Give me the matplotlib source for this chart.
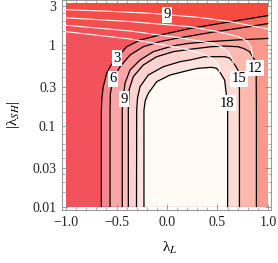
import matplotlib
matplotlib.use("Agg")
import matplotlib.pyplot as plt

plt.rcParams["font.family"] = ["Liberation Serif", "DejaVu Serif"]
plt.rcParams["mathtext.fontset"] = "stix"

# ── Rango de los datos ───────────────────────────────────────────────────────
LAM_L_MIN, LAM_L_MAX = -1.0, 1.0
LAM_SH_MIN, LAM_SH_MAX = 0.01, 3.3

# ── Contornos negros ─────────────────────────────────────────────────────────
c3_lamL = [-0.650, -0.650, -0.645, -0.631, -0.597, -0.554, -0.498, -0.399, -0.267,
           -0.102, 0.062, 0.228, 0.436, 0.723, 1.0]
c3_lamSH = [0.01, 0.157, 0.22, 0.305, 0.446, 0.565, 0.684, 0.952, 1.15,
            1.30, 1.44, 1.60, 1.77, 2.03, 2.31]

c6_lamL = [-0.564, -0.564, -0.561, -0.532, -0.465, -0.366, -0.234, -0.069, 0.096,
           0.228, 0.436, 0.723, 1.0]
c6_lamSH = [0.01, 0.157, 0.25, 0.387, 0.538, 0.752, 0.952, 1.10, 1.21,
            1.29, 1.43, 1.62, 1.84]

c9_lamL = [-0.443, -0.443, -0.433, -0.416, -0.366, -0.267, -0.136, 0.030, 0.109,
           0.228, 0.436, 0.723, 1.0]
c9_lamSH = [0.01, 0.157, 0.219, 0.336, 0.490, 0.652, 0.826, 0.952, 1.0,
            1.05, 1.104, 1.16, 1.204]

c12_lamL = [-0.383, -0.383, -0.376, -0.334, -0.235, -0.102, 0.062, 0.228, 0.439,
            0.574, 0.703, 0.760, 0.819, 0.868, 0.884, 0.886, 0.886]
c12_lamSH = [0.01, 0.157, 0.277, 0.405, 0.565, 0.716, 0.826, 0.885, 0.952,
             0.97, 0.952, 0.905, 0.826, 0.652, 0.405, 0.157, 0.01]

c15_lamL = [-0.302, -0.300, -0.292, -0.267, -0.185, -0.037, 0.129, 0.228, 0.373,
            0.571, 0.620, 0.653, 0.703, 0.718, 0.718, 0.718]
c15_lamSH = [0.01, 0.157, 0.22, 0.305, 0.425, 0.538, 0.621, 0.652, 0.716,
             0.716, 0.69, 0.621, 0.490, 0.277, 0.157, 0.01]

c18_lamL = [-0.228, -0.228, -0.215, -0.185, -0.102, 0.030, 0.228, 0.307, 0.439,
            0.490, 0.522, 0.571, 0.587, 0.601, 0.601]
c18_lamSH = [0.01, 0.157, 0.205, 0.252, 0.351, 0.425, 0.490, 0.514, 0.529,
             0.515, 0.467, 0.369, 0.252, 0.157, 0.01]

# ── Contornos blancos (segunda magnitud, arriba) ─────────────────────────────
w9_lamL = [-1.0, -0.564, -0.168, 0.010, 0.327, 0.624, 1.0]
w9_lamSH = [2.74, 2.61, 2.47, 2.37, 2.19, 1.95, 1.58]

w12_lamL = [-1.0, -0.366, 0.228, 0.505, 0.703, 0.792, 0.832, 0.850]
w12_lamSH = [2.17, 1.95, 1.686, 1.461, 1.274, 1.121, 0.944, 0.711]

w15_lamL = [-1.0, -0.366, 0.109, 0.436, 0.545, 0.604, 0.639, 0.661]
w15_lamSH = [1.754, 1.491, 1.238, 1.059, 0.944, 0.819, 0.700, 0.598]

w18_lamL = [-1.0, -0.366, 0.109, 0.307, 0.426, 0.485, 0.515, 0.522]
w18_lamSH = [1.461, 1.187, 0.931, 0.819, 0.710, 0.616, 0.534, 0.467]

# Etiquetas de los contornos
black_labels = ["3", "6", "9", "12", "15", "18"]
black_label_lamL = [-0.498, -0.532, -0.428, 0.874, 0.714, 0.598]
black_label_lamSH = [0.684, 0.383, 0.212, 0.514, 0.383, 0.19]
white_label = "9"
white_label_lamL, white_label_lamSH = 0.0, 2.36

x_ticks = [-1.0, -0.5, 0.0, 0.5, 1.0]
x_tick_labels = ["\u22121.0", "\u22120.5", "0.0", "0.5", "1.0"]
y_ticks = [0.01, 0.03, 0.1, 0.3, 1, 3]
y_tick_labels = ["0.01", "0.03", "0.1", "0.3", "1", "3"]
y_minor = [0.015, 0.02, 0.025, 0.04, 0.05, 0.06, 0.08, 0.15, 0.2, 0.25,
           0.4, 0.5, 0.6, 0.7, 0.8, 0.9, 1.5, 2, 2.5]
x_minor = [-0.9, -0.8, -0.7, -0.6, -0.4, -0.3, -0.2, -0.1,
           0.1, 0.2, 0.3, 0.4, 0.6, 0.7, 0.8, 0.9]

# ── Estilos ──────────────────────────────────────────────────────────────────
band_colors = ["#f2525a", "#f8868a", "#faa6a7", "#fcc0bf", "#fdd2cf", "#fee2dd", "#fffaf3"]
tint = "#ff4623"
tint_alpha = {"w9": 0.22, "w12": 0.17, "w15": 0.13, "w18": 0.05}

fig = plt.figure(figsize=(2.78, 2.63), dpi=100)
ax = fig.add_axes([0.222, 0.2015, 0.7518, 0.7985])
ax.set_yscale("log")

# fondo (<3)
ax.fill([LAM_L_MIN, LAM_L_MAX, LAM_L_MAX, LAM_L_MIN],
        [LAM_SH_MIN, LAM_SH_MIN, LAM_SH_MAX, LAM_SH_MAX],
        color=band_colors[0], lw=0, zorder=1)

contours = [(c3_lamL, c3_lamSH), (c6_lamL, c6_lamSH), (c9_lamL, c9_lamSH),
            (c12_lamL, c12_lamSH), (c15_lamL, c15_lamSH), (c18_lamL, c18_lamSH)]

# regiones f > nivel, de fuera hacia dentro
for i, (cx, cy) in enumerate(contours):
    px, py = list(cx), list(cy)
    if cx[-1] == LAM_L_MAX:  # sale por el borde derecho
        px.append(LAM_L_MAX)
        py.append(LAM_SH_MIN)
    ax.fill(px, py, color=band_colors[i + 1], lw=0, zorder=1)


def tail(cx, cy, x_end, y_end):
    """Tramo del contorno negro por debajo del final de la línea blanca."""
    return [(x, y) for x, y in zip(cx, cy) if x > x_end and y < y_end]


whites = [("w18", w18_lamL, w18_lamSH, c18_lamL, c18_lamSH),
          ("w15", w15_lamL, w15_lamSH, c15_lamL, c15_lamSH),
          ("w12", w12_lamL, w12_lamSH, c12_lamL, c12_lamSH),
          ("w9", w9_lamL, w9_lamSH, None, None)]

# tinte anaranjado por encima de cada línea blanca
for name, wx, wy, cx, cy in whites:
    px, py = list(wx), list(wy)
    if cx is not None:
        for x, y in tail(cx, cy, wx[-1], wy[-1]):
            px.append(x)
            py.append(y)
        px.append(LAM_L_MAX)
        py.append(LAM_SH_MIN)
    px += [LAM_L_MAX, LAM_L_MIN]
    py += [LAM_SH_MAX, LAM_SH_MAX]
    ax.fill(px, py, color=tint, alpha=tint_alpha[name], lw=0, zorder=2)

for cx, cy in contours:
    ax.plot(cx, cy, color="black", lw=0.9, zorder=3)
for name, wx, wy, cx, cy in whites:
    ax.plot(wx, wy, color="white", lw=0.8, zorder=3)

box = dict(facecolor="white", edgecolor="none", pad=1.0)
for lab, lx, ly in zip(black_labels, black_label_lamL, black_label_lamSH):
    ax.text(lx, ly, lab, fontsize=10.5, ha="center", va="center", bbox=box, zorder=4)
ax.text(white_label_lamL, white_label_lamSH, white_label, fontsize=10.5,
        ha="center", va="center", bbox=box, zorder=4)

ax.set_xlim(-1.043, 1.028)
ax.set_ylim(10 ** -2.043, 10 ** 0.557)

ax.set_xticks(x_ticks)
ax.set_xticklabels(x_tick_labels)
ax.set_xticks(x_minor, minor=True)
ax.set_yticks(y_ticks)
ax.set_yticklabels(y_tick_labels)
ax.set_yticks(y_minor, minor=True)
ax.set_yticklabels([], minor=True)

ax.tick_params(which="both", direction="in", top=True, right=True,
               color="#8c8c8c", labelsize=10, labelcolor="#222222")
ax.tick_params(which="major", length=4, width=0.6)
ax.tick_params(which="minor", length=2, width=0.5)
ax.tick_params(axis="x", pad=4.5)
ax.tick_params(axis="y", pad=4)
for sp in ax.spines.values():
    sp.set_color("#9a9a9a")
    sp.set_linewidth(0.8)

ax.set_xlabel("λ$_{L}$", fontsize=11)
ax.xaxis.set_label_coords(0.518, -0.181)
ax.xaxis.label.set_va("center")
ax.set_ylabel("|λ$_{SH}$|", fontsize=11)
ax.yaxis.set_label_coords(-0.233, 0.452)
ax.yaxis.label.set_va("center")
ax.yaxis.label.set_ha("center")

fig.savefig("out.png", dpi=100)
